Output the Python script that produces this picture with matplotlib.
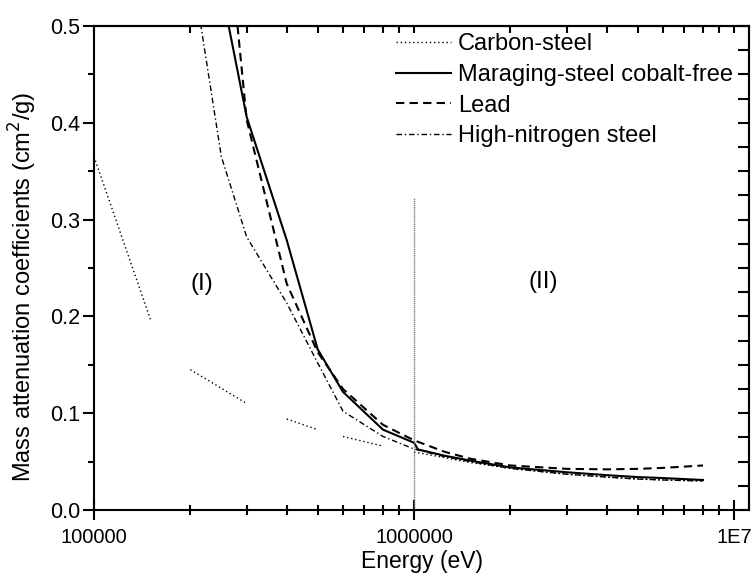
import numpy as np
import matplotlib
matplotlib.use("Agg")
import matplotlib.pyplot as plt
from matplotlib.ticker import FixedLocator, FuncFormatter, MultipleLocator, NullFormatter

plt.rcParams['font.family'] = ['Liberation Sans', 'DejaVu Sans']

nan = np.nan

# Carbon-steel (gaps where no line is drawn)
carbon_e = [1e5, 1.5e5, nan, 2e5, 3e5, nan, 4e5, 5e5, nan, 6e5, 8e5, nan,
            1e6, 1.25e6, 1.5e6, 2e6, 3e6, 4e6, 5e6, 6e6, 8e6]
carbon_mu = [0.365, 0.197, nan, 0.145, 0.110, nan, 0.094, 0.083, nan, 0.076, 0.066, nan,
             0.060, 0.054, 0.049, 0.043, 0.037, 0.034, 0.032, 0.031, 0.030]

# Maraging-steel cobalt-free
marag_e = [2e5, 3e5, 4e5, 5e5, 6e5, 8e5, 1e6, 1.03e6, 1.25e6, 1.5e6, 2e6, 3e6, 4e6, 5e6, 6e6, 8e6]
marag_mu = [0.70, 0.406, 0.279, 0.166, 0.122, 0.083, 0.0695, 0.0625, 0.056, 0.051, 0.044,
            0.039, 0.036, 0.034, 0.033, 0.031]

# Lead
lead_e = [2e5, 3e5, 4e5, 5e5, 6e5, 8e5, 1e6, 1.25e6, 1.5e6, 2e6, 3e6, 4e6, 5e6, 6e6, 8e6]
lead_mu = [0.999, 0.403, 0.234, 0.163, 0.125, 0.088, 0.072, 0.060, 0.053, 0.046,
           0.0425, 0.042, 0.0425, 0.0435, 0.046]

# High-nitrogen steel
hn_e = [2e5, 2.5e5, 3e5, 4e5, 5e5, 6e5, 8e5, 1e6, 1.25e6, 1.5e6, 2e6, 3e6, 4e6, 5e6, 6e6, 8e6]
hn_mu = [0.57, 0.365, 0.282, 0.214, 0.152, 0.102, 0.076, 0.063, 0.055, 0.050, 0.043,
         0.037, 0.034, 0.032, 0.031, 0.030]

boundary_e = 1e6
boundary_top = 0.322

fig = plt.figure(figsize=(7.51, 5.74), dpi=100)
ax = fig.add_axes([0.1252, 0.1115, 0.8721, 0.8432])

ax.plot(carbon_e, carbon_mu, color='black', lw=1.0, linestyle=(0, (1, 2)), label='Carbon-steel')
ax.plot(marag_e, marag_mu, color='black', lw=1.5, linestyle='-', label='Maraging-steel cobalt-free')
ax.plot(lead_e, lead_mu, color='black', lw=1.5, linestyle=(0, (4, 2.5)), label='Lead')
ax.plot(hn_e, hn_mu, color='black', lw=1.0, linestyle=(0, (4, 2, 1, 2)), label='High-nitrogen steel')

ax.vlines(boundary_e, 0, boundary_top, color='#808080', lw=1.0, linestyle=(0, (1, 0.5)))

ax.text(2.17e5, 0.233, '(I)', fontsize=17.5, ha='center', va='center')
ax.text(2.53e6, 0.236, '(II)', fontsize=17.5, ha='center', va='center')

ax.set_xscale('log')
ax.set_xlim(1e5, 1.114e7)
ax.set_ylim(0, 0.5)

# bottom / left ticks
ax.xaxis.set_major_locator(FixedLocator([1e5, 1e6, 1e7]))
labels = {1e5: '100000', 1e6: '1000000', 1e7: '1E7'}
ax.xaxis.set_major_formatter(FuncFormatter(lambda v, p: labels.get(v, '')))
minors = [m * d for d in (1e5, 1e6) for m in range(2, 10)]
ax.xaxis.set_minor_locator(FixedLocator(minors))
ax.xaxis.set_minor_formatter(NullFormatter())
ax.yaxis.set_major_locator(MultipleLocator(0.1))
ax.yaxis.set_minor_locator(MultipleLocator(0.05))
ax.yaxis.set_major_formatter(FuncFormatter(lambda v, p: f'{v:.1f}'))

ax.tick_params(axis='x', which='major', direction='inout', length=14, width=1.5,
               labelsize=14.5, pad=6)
ax.tick_params(axis='x', which='minor', direction='inout', length=7, width=1.5)
ax.tick_params(axis='y', which='major', direction='out', length=8, width=1.5,
               labelsize=15.5, pad=2)
ax.tick_params(axis='y', which='minor', direction='out', length=4.5, width=1.5)

for s in ax.spines.values():
    s.set_linewidth(1.5)

# top axis: inward ticks
top = ax.secondary_xaxis('top')
top.xaxis.set_major_locator(FixedLocator([1e5, 1e6, 1e7]))
top.xaxis.set_minor_locator(FixedLocator(minors))
top.xaxis.set_major_formatter(NullFormatter())
top.xaxis.set_minor_formatter(NullFormatter())
top.tick_params(which='both', direction='in', length=5, width=1.5)
top.spines['top'].set_linewidth(1.5)

# right axis: inward ticks every 0.025
right = ax.secondary_yaxis('right')
right.yaxis.set_major_locator(MultipleLocator(0.025))
right.yaxis.set_minor_locator(FixedLocator([]))
right.yaxis.set_major_formatter(NullFormatter())
right.tick_params(which='both', direction='in', length=8, width=1.5)
right.spines['right'].set_linewidth(1.5)

ax.set_xlabel('Energy (eV)', fontsize=16.5, va='center')
ax.xaxis.set_label_coords(0.5015, -0.107)
ax.set_ylabel('Mass attenuation coefficients (cm$^2$/g)', fontsize=17, va='center')
ax.yaxis.set_label_coords(-0.108, 0.461)

ax.legend(loc='upper left', bbox_to_anchor=(0.458, 0.99), frameon=False, fontsize=17,
          handlelength=2.3, handletextpad=0.3, labelspacing=0.37, borderpad=0.1,
          borderaxespad=0)

fig.savefig('out.png', dpi=100)
